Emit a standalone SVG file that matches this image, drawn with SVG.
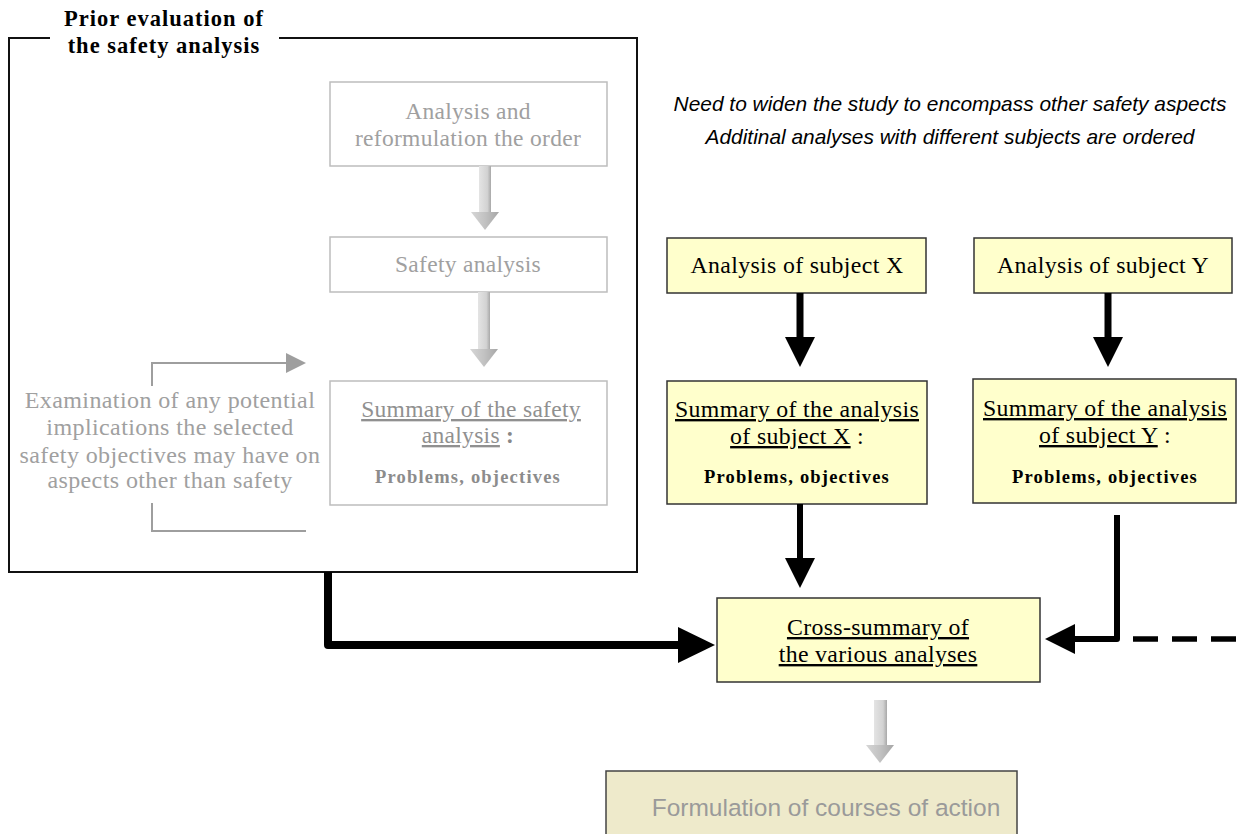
<svg xmlns="http://www.w3.org/2000/svg" width="1240" height="834" viewBox="0 0 1240 834">
<defs>
<style>
.serif{font-family:"Liberation Serif","Times New Roman",serif;}
.gtxt{fill:#a0a0a0;font-size:23.5px;letter-spacing:0.3px;}
.etxt{fill:#a0a0a0;font-size:24px;letter-spacing:0.4px;}
.btxt{fill:#000;font-size:23.8px;letter-spacing:0.35px;}
.bold{font-weight:bold;font-size:18.5px;letter-spacing:1.2px;}
.ul{text-decoration:underline;}
.gbox{fill:#fff;stroke:#bdbdbd;stroke-width:1.5;}
.ybox{fill:#ffffcc;stroke:#333;stroke-width:1.5;}
.thick{fill:none;stroke:#000;stroke-linejoin:round;}
.ital{font-family:"Liberation Sans",Arial,sans-serif;font-style:italic;font-size:20.9px;fill:#000;}
</style>
<linearGradient id="shaft" x1="0" x2="1" y1="0" y2="0">
<stop offset="0" stop-color="#e4e4e4"/>
<stop offset="0.7" stop-color="#d2d2d2"/>
<stop offset="1" stop-color="#a8a8a8"/>
</linearGradient>
<linearGradient id="head" x1="0" x2="1" y1="0" y2="0">
<stop offset="0" stop-color="#d6d6d6"/>
<stop offset="0.5" stop-color="#c2c2c2"/>
<stop offset="1" stop-color="#a6a6a6"/>
</linearGradient>
</defs>
<rect width="1240" height="834" fill="#fff"/>

<!-- outer frame -->
<g id="frame">
<path d="M50 38 H9 V572 H637 V38 H279" fill="none" stroke="#111" stroke-width="2"/>
<text class="serif" x="164" y="26" text-anchor="middle" font-weight="bold" font-size="22.5" letter-spacing="1" fill="#000">Prior evaluation of</text>
<text class="serif" x="164" y="53" text-anchor="middle" font-weight="bold" font-size="22.5" letter-spacing="1" fill="#000">the safety analysis</text>
</g>

<g id="note">
<text class="ital" x="950" y="111" text-anchor="middle">Need to widen the study to encompass other safety aspects</text>
<text class="ital" x="950" y="144" text-anchor="middle">Additinal analyses with different subjects are ordered</text>
</g>

<g id="n-order">
<rect class="gbox" x="330" y="82" width="277" height="84"/>
<text class="serif gtxt" x="468" y="119" text-anchor="middle">Analysis and</text>
<text class="serif gtxt" x="468" y="146" text-anchor="middle">reformulation the order</text>
</g>

<g id="n-safety">
<rect class="gbox" x="330" y="237" width="277" height="55"/>
<text class="serif gtxt" x="468" y="272" text-anchor="middle">Safety analysis</text>
</g>

<g id="n-summary">
<rect class="gbox" x="330" y="381" width="277" height="124"/>
<text class="serif gtxt" x="471" y="417" text-anchor="middle"><tspan class="ul" fill="#909090">Summary of the safety </tspan></text>
<text class="serif gtxt" x="468" y="443" text-anchor="middle"><tspan class="ul" fill="#909090">analysis</tspan><tspan font-weight="bold" fill="#888"> :</tspan></text>
<text class="serif bold" x="468" y="483" text-anchor="middle" fill="#8c8c8c">Problems, objectives</text>
</g>

<g id="n-exam">
<text class="serif etxt" x="170" y="408" text-anchor="middle">Examination of any potential</text>
<text class="serif etxt" x="170" y="435" text-anchor="middle">implications the selected</text>
<text class="serif etxt" x="170" y="463" text-anchor="middle">safety objectives may have on</text>
<text class="serif etxt" x="170" y="488" text-anchor="middle">aspects other than safety</text>
</g>

<g id="n-ax">
<rect class="ybox" x="667" y="238" width="259" height="55"/>
<text class="serif btxt" x="797" y="273" text-anchor="middle">Analysis of subject X</text>
</g>
<g id="n-ay">
<rect class="ybox" x="974" y="238" width="258" height="55"/>
<text class="serif btxt" x="1103" y="273" text-anchor="middle">Analysis of subject Y</text>
</g>
<g id="n-sx">
<rect class="ybox" x="667" y="381" width="260" height="123"/>
<text class="serif btxt" x="797" y="417" text-anchor="middle"><tspan class="ul">Summary of the analysis</tspan></text>
<text class="serif btxt" x="797" y="444" text-anchor="middle"><tspan class="ul">of subject X</tspan> :</text>
<text class="serif bold" x="797" y="483" text-anchor="middle" fill="#000">Problems, objectives</text>
</g>
<g id="n-sy">
<rect class="ybox" x="973" y="379" width="263" height="124"/>
<text class="serif btxt" x="1105" y="416" text-anchor="middle"><tspan class="ul">Summary of the analysis</tspan></text>
<text class="serif btxt" x="1105" y="443" text-anchor="middle"><tspan class="ul">of subject Y</tspan> :</text>
<text class="serif bold" x="1105" y="483" text-anchor="middle" fill="#000">Problems, objectives</text>
</g>
<g id="n-cross">
<rect class="ybox" x="717" y="598" width="323" height="84"/>
<text class="serif btxt" x="878" y="635" text-anchor="middle"><tspan class="ul">Cross-summary of</tspan></text>
<text class="serif btxt" x="878" y="662" text-anchor="middle"><tspan class="ul">the various analyses</tspan></text>
</g>
<g id="n-formulation">
<rect x="606" y="771" width="411" height="80" fill="#eeeacb" stroke="#444" stroke-width="1.5"/>
<text x="826" y="816" text-anchor="middle" font-family="'Liberation Sans',Arial,sans-serif" font-size="24.5" fill="#9a9a9a">Formulation of courses of action</text>
</g>

<g id="connectors">
<!-- gray 3d arrows -->
<rect x="479" y="166" width="12" height="46" fill="url(#shaft)"/>
<polygon points="471,212 499,212 485,230" fill="url(#head)"/>
<rect x="478" y="292" width="12" height="57" fill="url(#shaft)"/>
<polygon points="470,349 498,349 484,367" fill="url(#head)"/>
<rect x="874" y="700" width="13" height="45" fill="url(#shaft)"/>
<polygon points="866,745 894,745 880,763" fill="url(#head)"/>
<!-- feedback brackets -->
<path d="M152 386 V363 H287" fill="none" stroke="#9e9e9e" stroke-width="2"/>
<polygon points="286,353 286,373 306,363" fill="#9e9e9e"/>
<path d="M152 503 V531 H306" fill="none" stroke="#9e9e9e" stroke-width="2"/>
<!-- black arrows -->
<line x1="800" y1="293" x2="800" y2="338" stroke="#000" stroke-width="7"/>
<polygon points="785,337 815,337 800,367" fill="#000"/>
<line x1="1108" y1="293" x2="1108" y2="338" stroke="#000" stroke-width="7"/>
<polygon points="1093,337 1123,337 1108,367" fill="#000"/>
<line x1="800" y1="504" x2="800" y2="559" stroke="#000" stroke-width="6"/>
<polygon points="785,558 815,558 800,588" fill="#000"/>
<path class="thick" d="M328 572 V645 H680" stroke-width="8"/>
<polygon points="678,627 678,663 715,645" fill="#000"/>
<path class="thick" d="M1117 515 V639 H1074" stroke-width="6"/>
<polygon points="1075,624 1075,654 1045,639" fill="#000"/>
<line x1="1133" y1="639" x2="1240" y2="639" stroke="#000" stroke-width="5.5" stroke-dasharray="25 14"/>
</g>
</svg>
